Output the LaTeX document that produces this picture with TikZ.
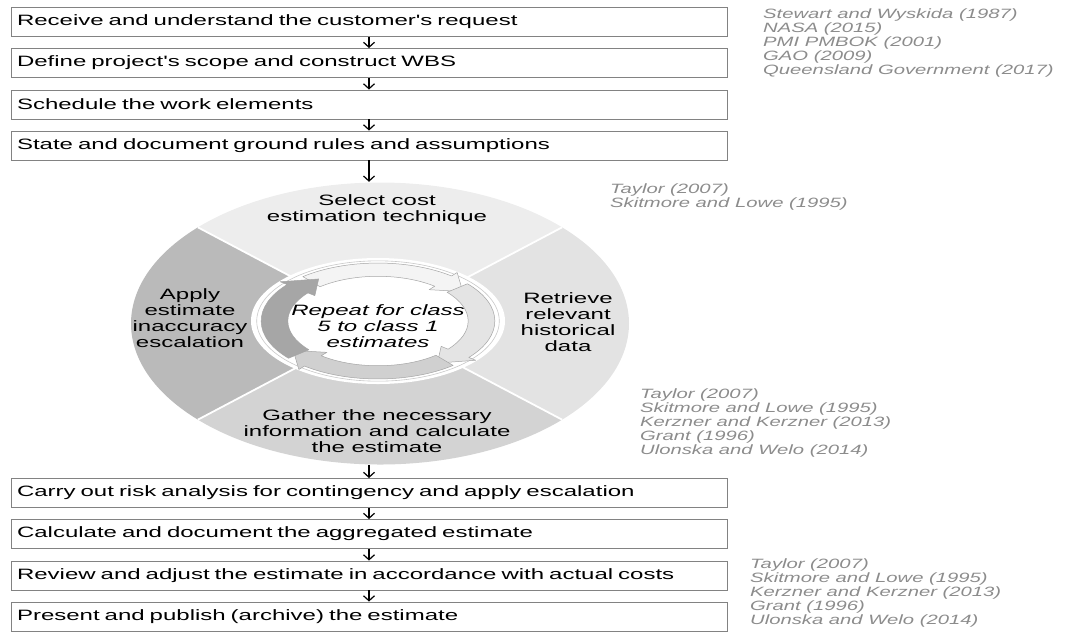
\documentclass[tikz,border=0pt]{standalone}
\usepackage{fontspec}
\usetikzlibrary{arrows.meta,shapes.geometric}
\newfontfamily\bfnt{Liberation Sans}[FakeStretch=1.6]
\newfontfamily\rfnt{Liberation Sans}[FakeStretch=1.5]
\definecolor{boxline}{RGB}{130,130,130}
\definecolor{refgray}{RGB}{140,140,140}
\definecolor{segtop}{RGB}{237,237,237}
\definecolor{segright}{RGB}{227,227,227}
\definecolor{segbottom}{RGB}{211,211,211}
\definecolor{segleft}{RGB}{186,186,186}
\definecolor{arrtop}{RGB}{244,244,244}
\definecolor{arrright}{RGB}{228,228,228}
\definecolor{arrbottom}{RGB}{208,208,208}
\definecolor{arrleft}{RGB}{166,166,166}
\definecolor{arrowedge}{RGB}{165,165,165}
\newcommand\ringarrow[3]{%
  \filldraw[fill=#3, draw=arrowedge, line width=0.5pt, line join=round]
    (#1:0.71) arc[start angle=#1, end angle={#2+16}, radius=0.71]
    -- ({#2+16}:0.64) -- (#2:0.815) -- ({#2+16}:0.99) -- ({#2+16}:0.92)
    arc[start angle={#2+16}, end angle=#1, radius=0.92] -- cycle;}
\begin{document}
\begin{tikzpicture}[x=1pt,y=-1pt,
  stepbox/.style={draw=boxline, line width=0.9pt, fill=white, minimum height=29pt,
    text width=704pt, inner xsep=6pt, inner ysep=0pt, align=left,
    font=\bfnt\fontsize{15}{16}\selectfont},
  flowarrow/.style={line width=1.2pt, -{Straight Barb[length=5pt,width=11pt]}},
  segtext/.style={align=center, inner sep=0pt, font=\bfnt\fontsize{15}{16}\selectfont},
  reftext/.style={align=left, anchor=north west, inner sep=0pt, text=refgray,
    font=\rfnt\itshape\fontsize{13.5}{14}\selectfont}]
\useasboundingbox (0,0) rectangle (1070,633);

% cycle background
\node[ellipse, minimum width=498pt, minimum height=283pt, inner sep=0pt] (cyc) at (380,323.5) {};
\begin{scope}[shift={(380,323.5)}, x=249pt, y=141pt]
  \fill[segtop] (0,0) -- (43:1) arc[start angle=43, end angle=137, radius=1] -- cycle;
  \fill[segleft] (0,0) -- (137:1) arc[start angle=137, end angle=223, radius=1] -- cycle;
  \fill[segbottom] (0,0) -- (223:1) arc[start angle=223, end angle=317, radius=1] -- cycle;
  \fill[segright] (0,0) -- (-43:1) arc[start angle=-43, end angle=43, radius=1] -- cycle;
  \draw[white, line width=1.8pt] (0,0) -- (43:1) (0,0) -- (137:1) (0,0) -- (223:1) (0,0) -- (317:1);
\end{scope}
\begin{scope}[shift={(378,321)}, x=127pt, y=63pt]
  \fill[white] (0,0) circle[radius=1];
  \draw[arrowedge!60, line width=0.6pt] (0,0) circle[radius=0.955];
  \ringarrow{130}{35}{arrtop}
  \ringarrow{40}{-55}{arrright}
  \ringarrow{-50}{-145}{arrbottom}
  \ringarrow{-140}{-235}{arrleft}
\end{scope}

\node[segtext] (sel) at (377,210) {Select cost\\estimation technique};
\node[segtext] (ret) at (568,322) {Retrieve\\relevant\\historical\\data};
\node[segtext] (gat) at (377,431) {Gather the necessary\\information and calculate\\the estimate};
\node[segtext] (app) at (190,318) {Apply\\estimate\\inaccuracy\\escalation};
\node[segtext, font=\bfnt\itshape\fontsize{15}{16}\selectfont] (rep) at (378,326) {Repeat for class\\5 to class 1\\estimates};

% boxes
\node[stepbox] (b1) at (369,22) {Receive and understand the customer's request};
\node[stepbox] (b2) at (369,63) {Define project's scope and construct WBS};
\node[stepbox] (b3) at (369,104.5) {Schedule the work elements};
\node[stepbox] (b4) at (369,145.5) {State and document ground rules and assumptions};
\node[stepbox] (b5) at (369,493) {Carry out risk analysis for contingency and apply escalation};
\node[stepbox] (b6) at (369,534) {Calculate and document the aggregated estimate};
\node[stepbox] (b7) at (369,575.5) {Review and adjust the estimate in accordance with actual costs};
\node[stepbox] (b8) at (369,616.5) {Present and publish (archive) the estimate};

% arrows
\draw[flowarrow] (b1.south) -- (b2.north);
\draw[flowarrow] (b2.south) -- (b3.north);
\draw[flowarrow] (b3.south) -- (b4.north);
\draw[flowarrow] (b4.south) -- (b4.south |- cyc.north);
\draw[flowarrow] (b5.north |- cyc.south) -- (b5.north);
\draw[flowarrow] (b5.south) -- (b6.north);
\draw[flowarrow] (b6.south) -- (b7.north);
\draw[flowarrow] (b7.south) -- (b8.north);

% references
\node[reftext] (refa) at (763,9) {Stewart and Wyskida (1987)\\NASA (2015)\\PMI PMBOK (2001)\\GAO (2009)\\Queensland Government (2017)};
\node[reftext] (refb) at (610,184) {Taylor (2007)\\Skitmore and Lowe (1995)};
\node[reftext] (refc) at (640,389) {Taylor (2007)\\Skitmore and Lowe (1995)\\Kerzner and Kerzner (2013)\\Grant (1996)\\Ulonska and Welo (2014)};
\node[reftext] (refd) at (750,559) {Taylor (2007)\\Skitmore and Lowe (1995)\\Kerzner and Kerzner (2013)\\Grant (1996)\\Ulonska and Welo (2014)};
\end{tikzpicture}
\end{document}
